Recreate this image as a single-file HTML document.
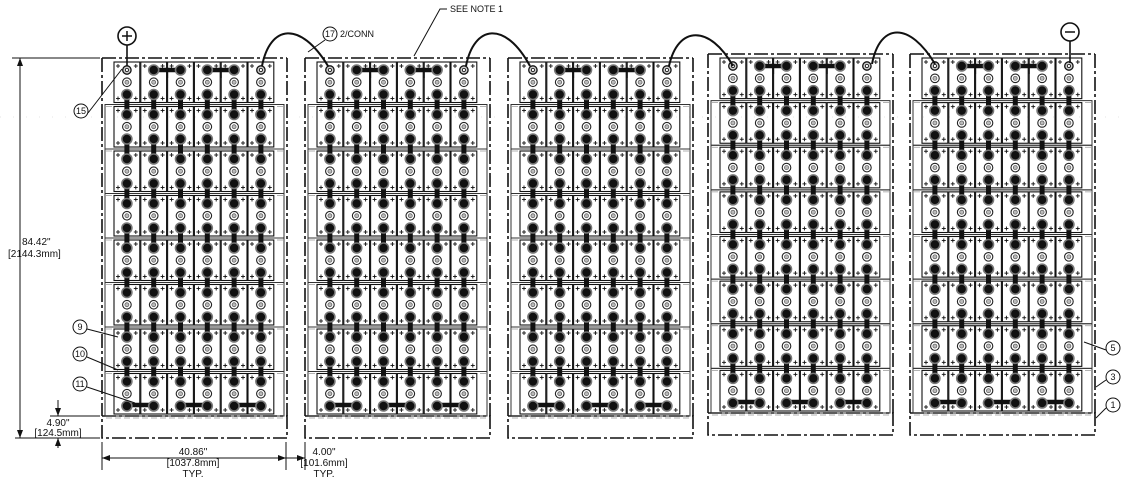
<!DOCTYPE html>
<html><head><meta charset="utf-8">
<style>
html,body{margin:0;padding:0;background:#fff;}
svg{display:block;}
text{font-family:"Liberation Sans",sans-serif;fill:#111;}
</style></head>
<body>
<svg id="s" width="1125" height="479" viewBox="0 0 1125 479" xmlns="http://www.w3.org/2000/svg">
<g id="g"></g>
<g font-size="10">
<text x="22" y="245">84.42"</text>
<text x="8" y="257">[2144.3mm]</text>
<text x="58" y="426" text-anchor="middle">4.90"</text>
<text x="58" y="436" text-anchor="middle">[124.5mm]</text>
<text x="193" y="455" text-anchor="middle">40.86"</text>
<text x="193" y="466" text-anchor="middle">[1037.8mm]</text>
<text x="193" y="477" text-anchor="middle">TYP.</text>
<text x="324" y="455" text-anchor="middle">4.00"</text>
<text x="324" y="466" text-anchor="middle">[101.6mm]</text>
<text x="324" y="477" text-anchor="middle">TYP.</text>
<text x="340" y="37" font-size="9">2/CONN</text>
<text x="450" y="12" font-size="9">SEE NOTE 1</text>
</g>
<g fill="none" stroke="#111">
<circle cx="81" cy="111" r="7"/><circle cx="80" cy="327" r="7"/><circle cx="80" cy="354" r="7"/><circle cx="80" cy="384" r="7"/>
<circle cx="330" cy="34" r="7"/><circle cx="1113" cy="348" r="7"/><circle cx="1113" cy="377" r="7"/><circle cx="1113" cy="405" r="7"/>
</g>
<g font-size="9" text-anchor="middle">
<text x="81" y="114">15</text><text x="80" y="330">9</text><text x="80" y="357">10</text><text x="80" y="387">11</text>
<text x="330" y="37">17</text><text x="1113" y="351">5</text><text x="1113" y="380">3</text><text x="1113" y="408">1</text>
</g>
<g stroke="#111" fill="none" stroke-width="1">
<line x1="88" y1="113" x2="122" y2="69"/>
<line x1="87" y1="329" x2="118" y2="337"/>
<line x1="87" y1="357" x2="118" y2="370"/>
<line x1="87" y1="387" x2="135" y2="403"/>
<line x1="325" y1="40" x2="308" y2="52"/>
<polyline points="447,9 440,9 414,56"/>
<line x1="1106" y1="350" x2="1084" y2="342"/>
<line x1="1106" y1="380" x2="1096" y2="387"/>
<line x1="1106" y1="408" x2="1096" y2="418"/>
<line x1="20" y1="58" x2="20" y2="438"/>
<line x1="12" y1="58" x2="100" y2="58"/>
<line x1="15" y1="438" x2="100" y2="438"/>
<line x1="58" y1="400" x2="58" y2="416"/><line x1="58" y1="438" x2="58" y2="448"/>
<line x1="50" y1="416" x2="100" y2="416"/>
<line x1="102" y1="442" x2="102" y2="470"/><line x1="286" y1="442" x2="286" y2="470"/><line x1="305" y1="442" x2="305" y2="470"/>
<line x1="102" y1="458" x2="286" y2="458"/><line x1="286" y1="458" x2="305" y2="458"/>
<circle cx="127" cy="36" r="9" stroke-width="1.6"/>
<line x1="127" y1="45" x2="127" y2="66" stroke-width="1.6"/>
<circle cx="1070" cy="32" r="9" stroke-width="1.6"/>
<line x1="1070" y1="41" x2="1070" y2="63" stroke-width="1.6"/>
</g>
<g stroke="#111" stroke-width="1.5"><line x1="122" y1="36" x2="132" y2="36"/><line x1="127" y1="31" x2="127" y2="41"/><line x1="1065" y1="32" x2="1075" y2="32"/></g>
<g fill="#111">
<polygon points="20,58 17,66 23,66"/><polygon points="20,438 17,430 23,430"/>
<polygon points="58,416 55,408 61,408"/><polygon points="58,438 55,446 61,446"/>
<polygon points="102,458 110,455 110,461"/><polygon points="286,458 278,455 278,461"/>
<polygon points="305,458 297,455 297,461"/>
</g>
<g stroke="#111" stroke-width="2" fill="none">
<path d="M262,66 C270,25 300,20 328,66"/>
<path d="M466,66 C474,25 505,20 530,66"/>
<path d="M669,66 C678,25 710,25 733,66"/>
<path d="M872,64 C880,22 910,22 935,64"/>
</g>
</svg>
<script>
(function(){
var g=document.getElementById('g'),h='';
function L(a,b,c,d,w,col,da){h+='<line x1="'+a+'" y1="'+b+'" x2="'+c+'" y2="'+d+'" stroke="'+(col||'#111')+'" stroke-width="'+(w||1)+'"'+(da?' stroke-dasharray="'+da+'"':'')+'/>';}
function R(x,y,w,hh,sw,da,col){h+='<rect x="'+x+'" y="'+y+'" width="'+w+'" height="'+hh+'" fill="none" stroke="'+(col||'#111')+'" stroke-width="'+(sw||1)+'"'+(da?' stroke-dasharray="'+da+'"':'')+'/>';}
function C(x,y,r,f,s,sw){h+='<circle cx="'+x+'" cy="'+y+'" r="'+r+'" fill="'+f+'" stroke="'+s+'" stroke-width="'+(sw||1)+'"/>';}
function P(x,y){L(x-2,y,x+2,y,0.9);L(x,y-2,x,y+2,0.9);}
L(0,117,1125,117,0.5,'#ccc','1 12');
var racks=[[102,58,416,438],[305,58,416,438],[508,58,416,438],[708,54,413,435],[910,54,413,435]];
racks.forEach(function(rk){
 var rx=rk[0],top=rk[1],bt=rk[2],bb=rk[3],W=185,dd='14 3 3 3';
 L(rx,top,rx,bt,1.6,'#111',dd);L(rx+W,top,rx+W,bt,1.6,'#111',dd);L(rx,top,rx+W,top,1.6,'#111',dd);
 R(rx,bt,W,bb-bt,1.6,dd);
 var th=(bt-2-top)/8,cw=26.8,x0=rx+12;
 for(var t=0;t<8;t++){
  var ty=top+2+t*th;
  if(t>0)R(rx+3,ty,W-6,th,1,null,'#333');
  L(rx+4,ty+th+2,rx+W-4,ty+th+2,0.7,'#999','6 3');
  for(var c=0;c<6;c++){
   var cx=x0+c*cw,cy=ty+2,ch=th-4;
   R(cx,cy,cw-1,ch,1.1);
   P(cx+4,cy+4);P(cx+cw-5,cy+4);P(cx+4,cy+ch-4);P(cx+cw-5,cy+ch-4);
  }
 }
 for(var c=0;c<6;c++){
  var mx=x0+c*cw+cw/2-0.5;
  for(var t=0;t<7;t++){
   var ty=top+2+t*th+2;
   L(mx,ty+th-10,mx,ty+th+9,5);
  }
 }
 var t0=top+4+8,tl=top+2+7*th+2+th-4-9;
 L(x0+cw*1.5,t0,x0+cw*2.5,t0,4.5);L(x0+cw*3.5,t0,x0+cw*4.5,t0,4.5);
 L(x0+cw*2,t0,x0+cw*2,t0+8,1);L(x0+cw*4,t0,x0+cw*4,t0+8,1);
 L(x0+cw*0.5,tl,x0+cw*1.5,tl,4.5);L(x0+cw*2.5,tl,x0+cw*3.5,tl,4.5);L(x0+cw*4.5,tl,x0+cw*5.5,tl,4.5);
 for(var t=0;t<8;t++){
  var cy=top+2+t*th+2,ch=th-4;
  for(var c=0;c<6;c++){
   var mx=x0+c*cw+cw/2-0.5;
   var tt=cy+8,mm=cy+ch/2,bb2=cy+ch-8;
   if(t==0&&(c==0||c==5)){C(mx,tt,4.2,'#ccc','#111',1.3);C(mx,tt,1.6,'#fff','#111',0.8);}
   else C(mx,tt,5,'#111','#777',1.6);
   C(mx,mm,4.3,'#fff','#222',1.1);C(mx,mm,2,'#bbb','#555',0.7);
   C(mx,bb2,5,'#111','#777',1.6);
  }
 }
});
g.innerHTML=h;
})();
</script>
</body></html>
